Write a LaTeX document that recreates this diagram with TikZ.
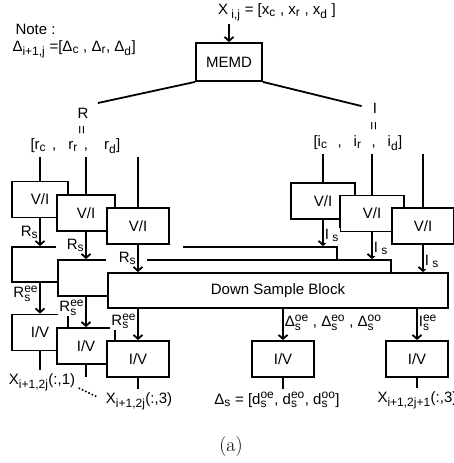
\documentclass[tikz,border=0pt]{standalone}
\usepackage{fontspec}
\newfontfamily\diagfont{Liberation Sans}
\usetikzlibrary{arrows.meta,calc}
\newcommand{\subfont}{\fontsize{12}{13}\selectfont}
\newcommand{\sub}[1]{$_{\hbox{\subfont #1}}$}
\newcommand{\supsub}[2]{$^{\hbox{\subfont #1}}_{\hbox{\subfont #2}}$}

\begin{document}
\begin{tikzpicture}[x=1pt, y=-1pt,
  font=\diagfont\fontsize{15}{17}\selectfont,
  procbox/.style={draw, line width=1.8pt, fill=white, minimum width=#1, minimum height=36pt, inner sep=0pt},
  stagebox/.style={draw, line width=1.8pt, fill=white, inner sep=0pt},
  arr/.style={-{Straight Barb[length=4pt,width=9pt]}, line width=1.8pt},
  wire/.style={line width=1.8pt},
  lab/.style={fill=white, inner sep=1pt}
]
\useasboundingbox (0,0) rectangle (454,463);

% Note
\node[anchor=west] (note1) at (12,29) {Note :};
\node[anchor=west] (note2) at (9,49)
  {Δ\sub{i+1,j} =[Δ\sub{c} , Δ\sub{r}, Δ\sub{d}]};

% Input and MEMD
\node (xin) at (277,12) {X\sub{ i,j} = [x\sub{c} , x\sub{r} , x\sub{d} ]};
\node[procbox=66pt, minimum height=38pt] (memd) at (229,62) {MEMD};
\draw[arr] (xin.south -| memd.north) -- (memd.north);

% R and I branches
\node (rlab) at (83,113) {R};
\node[rotate=90, inner sep=0pt] (req) at (83,130) {=};
\node[anchor=west] (rrow) at (27,146)
  {[r\sub{c}\hspace{6pt},\hspace{12pt}r\sub{r}\hspace{6pt},\hspace{16pt}r\sub{d}]};
\node (ilab) at (375,108) {I};
\node[rotate=90, inner sep=0pt] (ieq) at (375,126) {=};
\node[anchor=west] (irow) at (310,143)
  {[i\sub{c}\hspace{10pt},\hspace{12pt}i\sub{r}\hspace{10pt},\hspace{12pt}i\sub{d}]};
\draw[wire, shorten >=6pt] (memd.south west) -- (rlab.north east);
\draw[wire, shorten >=8pt] (memd.south east) -- (ilab.west);

% Stacked blocks
\node[stagebox, minimum width=325pt, minimum height=35pt] (blk1) at (174.5,264.5) {};
\node[stagebox, minimum width=333pt, minimum height=36pt] (blk2) at (224.5,278) {};
\node[stagebox, minimum width=340pt, minimum height=35pt] (dsb) at (278,290.5) {Down Sample Block};
\fill[white] (56,244) rectangle (183,250);
\fill[white] (106,257) rectangle (147,263);

% V/I boxes, R side
\node[procbox=56pt] (vil1) at (40,199.5) {V/I};
\node[procbox=58pt] (vil2) at (86,213) {V/I};
\node[procbox=62pt] (vil3) at (138,226) {V/I};

% V/I boxes, I side
\node[procbox=64pt] (vir1) at (323,201) {V/I};
\node[procbox=64pt] (vir2) at (372,213.5) {V/I};
\node[procbox=62pt] (vir3) at (423,226) {V/I};

% feed lines
\draw[wire] (vil1.north |- rrow.south) -- (vil1.north);
\draw[wire] (vil2.north |- rrow.south) -- (vil2.north);
\draw[wire] (vil3.north |- rrow.south) -- (vil3.north);
\draw[wire] (vir1.north |- irow.south) -- (vir1.north);
\draw[wire] (vir2.north |- irow.south) -- (vir2.north);
\draw[wire] (vir3.north |- irow.south) -- (vir3.north);

% I/V boxes
\node[procbox=56pt] (ivl1) at (40,332.5) {I/V};
\node[procbox=58pt] (ivl2) at (86,346) {I/V};
\node[procbox=62pt] (ivl3) at (138,359) {I/V};
\node[procbox=62pt] (ivm) at (283,359) {I/V};
\node[procbox=62pt] (ivr) at (417,359) {I/V};

% into the blocks
\draw[arr] (vil1.south) -- node[lab,left]{R\sub{s}} (vil1.south |- blk1.north);
\draw[arr] (vil2.south) -- node[lab,left]{R\sub{s}} (vil2.south |- blk2.north);
\draw[arr] (vil3.south) -- node[lab,left]{R\sub{s}} (vil3.south |- dsb.north);
\draw[arr] (vir1.south) -- node[lab,right,pos=0.6]{I\sub{ s}} (vir1.south |- blk1.north);
\draw[arr] (vir2.south) -- node[lab,right,pos=0.6]{I\sub{ s}} (vir2.south |- blk2.north);
\draw[arr] (vir3.south) -- node[lab,right,pos=0.6]{I\sub{ s}} (vir3.south |- dsb.north);

% out of the blocks
\draw[arr] (ivl1.north |- blk1.south) -- node[lab,left,pos=0.35]{R\supsub{ee}{s}} (ivl1.north);
\draw[arr] (ivl2.north |- blk2.south) -- node[lab,left,pos=0.35]{R\supsub{ee}{s}} (ivl2.north);
\draw[arr] (ivl3.north |- dsb.south) -- node[lab,left,pos=0.4]{R\supsub{ee}{s}} (ivl3.north);
\draw[arr] (ivm.north |- dsb.south) -- node[right,pos=0.45,inner sep=1pt]
  {Δ\supsub{oe}{s} , Δ\supsub{eo}{s} , Δ\supsub{oo}{s}} (ivm.north);
\draw[arr] (ivr.north |- dsb.south) -- node[right,pos=0.45,inner sep=1pt]{I\supsub{ee}{s}} (ivr.north);

% outputs
\node (xo1) at (42,382) {X\sub{i+1,2j}(:,1)};
\node (xo3) at (139,401) {X\sub{i+1,2j}(:,3)};
\node (dso) at (277,400) {Δ\sub{s} = [d\supsub{oe}{s}, d\supsub{eo}{s}, d\supsub{oo}{s}]};
\node[anchor=west] (xor) at (374,400) {X\sub{i+1,2j+1}(:,3)};
\draw[wire] (ivl1.south) -- (ivl1.south |- xo1.north);
\draw[wire] (ivl2.south) -- ++(0,12);
\draw[wire] (ivl3.south) -- (ivl3.south |- xo3.north);
\draw[wire] (ivm.south) -- (ivm.south |- dso.north);
\draw[wire] (ivr.south) -- (ivr.south |- xor.north);
\draw[dotted, line width=1.6pt] ($(xo1.east)+(0,6)$) -- ($(xo3.west)+(-5,-4)$);

\node[font=\rmfamily\fontsize{20}{22}\selectfont] (cap) at (231,447) {(a)};

\end{tikzpicture}
\end{document}
